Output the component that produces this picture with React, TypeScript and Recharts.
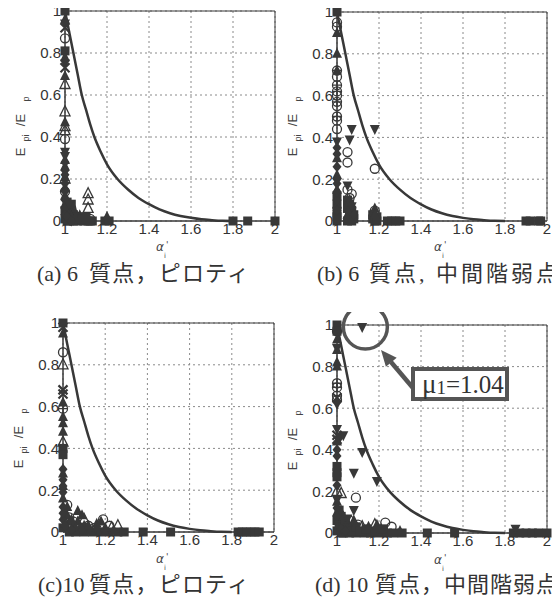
import React from "react";
import {
  ComposedChart,
  Scatter,
  Line,
  XAxis,
  YAxis,
  CartesianGrid,
  ReferenceArea,
  ReferenceDot,
} from "recharts";

type Pair = [number, number];

const xTicks = [1, 1.2, 1.4, 1.6, 1.8, 2];
const yTicks = [0, 0.2, 0.4, 0.6, 0.8, 1];

// design curve (same in all four panels)
const curveAlpha = [1, 1.02, 1.04, 1.06, 1.08, 1.1, 1.12, 1.14, 1.17, 1.2, 1.25, 1.3, 1.35, 1.4, 1.45, 1.5, 1.55, 1.6, 1.65, 1.7, 1.75, 1.8];
const curveRatio = [1, 0.9, 0.8, 0.7, 0.6, 0.53, 0.46, 0.4, 0.33, 0.27, 0.2, 0.15, 0.11, 0.08, 0.055, 0.037, 0.024, 0.015, 0.008, 0.004, 0.001, 0];

// (a) 6 mass, piloti
const aSquare: Pair[] = [[1, 1], [1, 0.81], [1, 0.05], [1, 0.01], [1.02, 0], [1.04, 0.01], [1.06, 0], [1.09, 0], [1.11, 0], [1.13, 0], [1.19, 0], [1.21, 0], [1.8, 0], [1.87, 0], [2, 0]];
const aCluster: Pair[] = [[1.01, 0.03], [1.02, 0.06], [1.03, 0.04], [1.04, 0.03], [1.05, 0.02], [1.01, 0.09], [1.02, 0.01], [1.06, 0.02], [1.03, 0.08], [1.04, 0.0], [1.01, 0.0], [1.08, 0.01], [1.12, 0.0], [1.1, 0.02]];
const aTri: Pair[] = [[1, 0.96], [1, 0.78], [1, 0.69], [1, 0.47], [1, 0.29], [1, 0.26], [1, 0.21], [1, 0.16], [1, 0.12], [1, 0.08], [1.01, 0.06], [1.02, 0.04], [1.03, 0.02], [1.05, 0.01], [1.1, 0.01], [1.2, 0.02]];
const aOpenTri: Pair[] = [[1, 0.65], [1, 0.52], [1, 0.45], [1, 0.43], [1, 0.2], [1.11, 0.13], [1.11, 0.1], [1.11, 0.06], [1.04, 0.05], [1.07, 0.02]];
const aCircle: Pair[] = [[1, 0.87], [1, 0.39], [1, 0.14], [1.03, 0.06], [1.06, 0.02], [1.12, 0.01]];
const aCross: Pair[] = [[1, 0.92], [1, 0.73]];
const aDiamond: Pair[] = [[1, 0.24], [1, 0.18], [1, 0.1], [1, 0.28], [1, 0.22], [1, 0.14], [1, 0.06], [1, 0.03], [1.01, 0.02], [1.03, 0]];
const aDownTri: Pair[] = [[1, 0.94], [1, 0.75], [1, 0.33], [1, 0.31], [1.02, 0.08]];

// (b) 6 mass, mid-storey weak
const bSquare: Pair[] = [[1, 1], [1, 0.12], [1, 0.04], [1, 0], [1.05, 0.06], [1.06, 0.02], [1.07, 0], [1.08, 0.01], [1.17, 0.01], [1.19, 0], [1.24, 0], [1.26, 0], [1.28, 0], [1.3, 0], [1.9, 0], [1.92, 0], [1.96, 0], [1.97, 0]];
const bCluster: Pair[] = [[1, 0.08], [1, 0.02], [1.05, 0.1], [1.06, 0.08], [1.07, 0.05], [1.05, 0.0], [1.06, 0.04], [1.08, 0.03], [1.17, 0.03], [1.18, 0.0], [1.19, 0.02]];
const bTri: Pair[] = [[1, 0.9], [1, 0.8], [1, 0.72], [1, 0.3], [1, 0.22], [1, 0.15], [1, 0.08], [1.06, 0.1], [1.07, 0.08], [1.05, 0.03], [1.18, 0.06], [1.18, 0.03]];
const bCircle: Pair[] = [[1, 0.95], [1, 0.93], [1, 0.69], [1, 0.6], [1, 0.55], [1, 0.48], [1, 0.44], [1.05, 0.33], [1.05, 0.28], [1.18, 0.25], [1.05, 0.15], [1.07, 0.13], [1.06, 0.11], [1.18, 0.05]];
const bPlusCircle: Pair[] = [[1, 0.72], [1, 0.65], [1, 0.62], [1, 0.57], [1, 0.5]];
const bDownTri: Pair[] = [[1, 0.38], [1.07, 0.44], [1.06, 0.39], [1.18, 0.44], [1.05, 0.17], [1.07, 0.07]];
const bDiamond: Pair[] = [[1, 0.35], [1, 0.26], [1, 0.18], [1, 0.1], [1, 0.05], [1, 0.32], [1, 0.2], [1, 0.14], [1.06, 0.05], [1.08, 0.03]];

// (c) 10 mass, piloti
const cSquare: Pair[] = [[1, 1], [1, 0.4], [1, 0.37], [1, 0.02], [1.03, 0], [1.06, 0], [1.1, 0], [1.14, 0], [1.18, 0], [1.22, 0], [1.26, 0], [1.29, 0], [1.38, 0], [1.51, 0], [1.83, 0], [1.85, 0], [1.87, 0], [1.89, 0], [1.91, 0], [1.93, 0]];
const cCluster: Pair[] = [[1.01, 0.04], [1.02, 0.02], [1.03, 0.05], [1.05, 0.03], [1.07, 0.05], [1.08, 0.02], [1.1, 0.03], [1.13, 0.01], [1.16, 0.02], [1.2, 0.0], [1.24, 0.01], [1.01, 0.09], [1.02, 0.12]];
const cTri: Pair[] = [[1, 0.95], [1, 0.62], [1, 0.55], [1, 0.52], [1, 0.48], [1, 0.28], [1, 0.22], [1, 0.16], [1.02, 0.08], [1.04, 0.06], [1.07, 0.1], [1.09, 0.08], [1.12, 0.03], [1.16, 0.04], [1.18, 0.05], [1.2, 0.02], [1.06, 0.02]];
const cOpenTri: Pair[] = [[1, 0.8], [1, 0.43], [1.1, 0.06], [1.26, 0.03], [1.23, 0.02]];
const cCircle: Pair[] = [[1, 0.86], [1.03, 0.07], [1.05, 0.05], [1.12, 0.03], [1.15, 0.02], [1.19, 0.06], [1.22, 0.03], [1.02, 0.13]];
const cPlusCircle: Pair[] = [[1, 0.59]];
const cCross: Pair[] = [[1, 0.98], [1, 0.68], [1, 0.66]];
const cDiamond: Pair[] = [[1, 0.25], [1, 0.19], [1, 0.12], [1, 0.06], [1, 0.3], [1, 0.22], [1, 0.09], [1.01, 0.03], [1.04, 0.01], [1.09, 0.01]];

// (d) 10 mass, mid-storey weak
const dSquare: Pair[] = [[1, 1], [1, 0.97], [1, 0.32], [1, 0.29], [1, 0.27], [1, 0.06], [1, 0.01], [1.03, 0], [1.06, 0], [1.09, 0], [1.13, 0], [1.16, 0], [1.2, 0], [1.24, 0], [1.27, 0], [1.31, 0], [1.43, 0], [1.56, 0], [1.84, 0], [1.87, 0], [1.9, 0], [1.93, 0], [1.96, 0], [2, 0]];
const dCluster: Pair[] = [[1.01, 0.04], [1.02, 0.08], [1.03, 0.03], [1.04, 0.06], [1.06, 0.03], [1.07, 0.01], [1.09, 0.03], [1.11, 0.01], [1.14, 0.02], [1.18, 0.01], [1.22, 0.02], [1.01, 0.11], [1.02, 0.0]];
const dTri: Pair[] = [[1, 0.93], [1, 0.88], [1, 0.82], [1, 0.8], [1, 0.44], [1, 0.15], [1, 0.1], [1.03, 0.08], [1.05, 0.05], [1.08, 0.06], [1.15, 0.03], [1.19, 0.04], [1.21, 0.02], [1.3, 0.01]];
const dDownTri: Pair[] = [[1.12, 0.99], [1, 0.89], [1, 0.62], [1, 0.5], [1.015, 0.46], [1.03, 0.47], [1.12, 0.39], [1.08, 0.29], [1.19, 0.25], [1, 0.16], [1.08, 0.11], [1.05, 0.07], [1.85, 0.02]];
const dCircle: Pair[] = [[1, 0.97], [1, 0.66], [1, 0.64], [1.09, 0.17], [1.06, 0.06], [1.1, 0.04], [1.23, 0.05], [1.26, 0.03]];
const dPlusCircle: Pair[] = [[1, 0.72], [1, 0.7]];
const dDiamond: Pair[] = [[1, 0.4], [1, 0.37], [1, 0.23], [1, 0.12], [1, 0.08], [1.02, 0.02], [1.04, 0.01]];
const dOpenTri: Pair[] = [[1, 0.2], [1.02, 0.19], [1.12, 0.03], [1.18, 0.04]];
const dCross: Pair[] = [[1, 0.47], [1, 0.45], [1, 0.65]];

const captionHeads = ["(a) 6", "(b) 6", "(c)10", "(d) 10"];
const captionTails = ["質点，ピロティ", "質点, 中間階弱点", "質点，ピロティ", "質点，中間階弱点"];

const INK = "#383838";
const curve = curveAlpha.map((x, i) => ({ x, y: curveRatio[i] }));
const pts = (arr: Pair[]) => arr.map(([x, y]) => ({ x, y }));

function Marker(props: any) {
  const { cx, cy, kind } = props;
  if (cx == null || cy == null) return null;
  switch (kind) {
    case "sq":
      return <rect x={cx - 4.5} y={cy - 4.5} width={9} height={9} fill={INK} />;
    case "tri":
      return <polygon points={`${cx},${cy - 6} ${cx - 5},${cy + 4} ${cx + 5},${cy + 4}`} fill={INK} />;
    case "otri":
      return <polygon points={`${cx},${cy - 6} ${cx - 5},${cy + 4} ${cx + 5},${cy + 4}`} fill="none" stroke={INK} strokeWidth={1.3} />;
    case "dtri":
      return <polygon points={`${cx - 5},${cy - 4} ${cx + 5},${cy - 4} ${cx},${cy + 6}`} fill={INK} />;
    case "circ":
      return <circle cx={cx} cy={cy} r={4.5} fill="none" stroke={INK} strokeWidth={1.3} />;
    case "pcirc":
      return (
        <g stroke={INK} strokeWidth={1.3} fill="none">
          <circle cx={cx} cy={cy} r={4.5} />
          <path d={`M${cx - 4.5},${cy}H${cx + 4.5}M${cx},${cy - 4.5}V${cy + 4.5}`} />
        </g>
      );
    case "dia":
      return <polygon points={`${cx},${cy - 5.5} ${cx + 4.5},${cy} ${cx},${cy + 5.5} ${cx - 4.5},${cy}`} fill={INK} />;
    case "x":
      return <path d={`M${cx - 4.5},${cy - 4.5}L${cx + 4.5},${cy + 4.5}M${cx - 4.5},${cy + 4.5}L${cx + 4.5},${cy - 4.5}`} stroke={INK} strokeWidth={2.2} />;
    default:
      return null;
  }
}

type Series = { kind: string; data: Pair[] };

const panels: {
  left: number;
  top: number;
  margin: { top: number; left: number; right: number; bottom: number };
  series: Series[];
  ring?: boolean;
}[] = [
  {
    left: 0, top: 0, margin: { top: 11, left: 35, right: 5, bottom: 19 },
    series: [
      { kind: "otri", data: aOpenTri }, { kind: "circ", data: aCircle }, { kind: "sq", data: aSquare },
      { kind: "sq", data: aCluster }, { kind: "tri", data: aTri }, { kind: "dia", data: aDiamond },
      { kind: "dtri", data: aDownTri }, { kind: "x", data: aCross },
    ],
  },
  {
    left: 280, top: 0, margin: { top: 12, left: 27, right: 13, bottom: 19 },
    series: [
      { kind: "circ", data: bCircle }, { kind: "pcirc", data: bPlusCircle }, { kind: "sq", data: bSquare },
      { kind: "sq", data: bCluster }, { kind: "tri", data: bTri }, { kind: "dia", data: bDiamond },
      { kind: "dtri", data: bDownTri },
    ],
  },
  {
    left: 0, top: 312, margin: { top: 11, left: 33, right: 6, bottom: 20 },
    series: [
      { kind: "otri", data: cOpenTri }, { kind: "circ", data: cCircle }, { kind: "pcirc", data: cPlusCircle },
      { kind: "sq", data: cSquare }, { kind: "tri", data: cCluster }, { kind: "tri", data: cTri },
      { kind: "dia", data: cDiamond }, { kind: "x", data: cCross },
    ],
  },
  {
    left: 280, top: 312, margin: { top: 13, left: 27, right: 13, bottom: 19 },
    ring: true,
    series: [
      { kind: "otri", data: dOpenTri }, { kind: "circ", data: dCircle }, { kind: "pcirc", data: dPlusCircle },
      { kind: "sq", data: dSquare }, { kind: "sq", data: dCluster }, { kind: "tri", data: dTri },
      { kind: "dia", data: dDiamond }, { kind: "dtri", data: dDownTri }, { kind: "x", data: dCross },
    ],
  },
];

const tickStyle = { fill: "#333", fontSize: 15, fontFamily: "Liberation Sans, Arial, sans-serif" };

function Panel({ cfg }: { cfg: (typeof panels)[number] }) {
  return (
    <div style={{ position: "absolute", left: cfg.left, top: cfg.top }}>
      <ComposedChart width={280} height={260} margin={cfg.margin}>
        <CartesianGrid stroke="#8a8a8a" strokeDasharray="2 3" />
        <XAxis
          type="number"
          dataKey="x"
          domain={[1, 2]}
          ticks={xTicks}
          height={20}
          tickLine={false}
          tickSize={0}
          tickMargin={2}
          axisLine={{ stroke: INK }}
          tick={tickStyle}
          interval={0}
        />
        <YAxis
          type="number"
          dataKey="y"
          domain={[0, 1]}
          ticks={yTicks}
          width={30}
          tickLine={false}
          tickSize={0}
          tickMargin={4}
          axisLine={{ stroke: INK }}
          tick={tickStyle}
          interval={0}
        />
        <ReferenceArea x1={1} x2={2} y1={0} y2={1} fill="none" fillOpacity={0} stroke={INK} strokeWidth={1} />
        {cfg.series.map((s, i) => (
          <Scatter
            key={i}
            data={pts(s.data)}
            isAnimationActive={false}
            shape={(p: any) => <Marker cx={p.cx} cy={p.cy} kind={s.kind} />}
          />
        ))}
        <Line
          data={curve}
          dataKey="y"
          type="monotone"
          stroke={INK}
          strokeWidth={2.5}
          dot={false}
          isAnimationActive={false}
        />
        {cfg.ring && (
          <ReferenceDot x={1.135} y={0.99} r={22} fill="none" stroke="#555" strokeWidth={3.5} ifOverflow="visible" />
        )}
      </ComposedChart>
    </div>
  );
}

function YTitle({ x, y }: { x: number; y: number }) {
  const part = (dx: number, up: number, s: string, size: number) => (
    <text
      transform={`translate(${x + dx},${y - up}) rotate(-90)`}
      textAnchor="middle"
      fontSize={size}
      fill="#444"
      fontFamily="Liberation Sans, Arial, sans-serif"
    >
      {s}
    </text>
  );
  return (
    <g>
      {part(0, 0, "E", 13)}
      {part(4, 14, "pi", 9)}
      {part(0, 32, "/E", 13)}
      {part(4, 53, "p", 9)}
    </g>
  );
}

function XTitle({ x, y }: { x: number; y: number }) {
  return (
    <g fill="#444" fontFamily="DejaVu Sans, sans-serif">
      <text x={x} y={y} fontSize={12} textAnchor="middle" fontStyle="italic">α</text>
      <text x={x + 4} y={y + 7} fontSize={7}>i</text>
      <text x={x + 6} y={y - 3} fontSize={9}>'</text>
    </g>
  );
}

const capFont = '"Liberation Serif", "Noto Sans CJK JP", serif';

function Caption({ i, x, tx, len, y }: { i: number; x: number; tx: number; len: number; y: number }) {
  return (
    <g fontSize={22} fontFamily={capFont} fill="#333">
      <text x={x} y={y}>{captionHeads[i]}</text>
      <text x={tx} y={y} textLength={len} lengthAdjust="spacing">{captionTails[i]}</text>
    </g>
  );
}

export default function App() {
  return (
    <div style={{ position: "relative", width: 560, height: 611, margin: -8, background: "#fff" }}>
      {panels.map((p, i) => (
        <Panel key={i} cfg={p} />
      ))}
      <svg width={560} height={611} style={{ position: "absolute", left: 0, top: 0, pointerEvents: "none" }}>
        <YTitle x={25} y={152} />
        <YTitle x={297} y={152} />
        <YTitle x={23} y={464} />
        <YTitle x={297} y={466} />
        <XTitle x={160} y={251} />
        <XTitle x={438} y={251} />
        <XTitle x={160} y={563} />
        <XTitle x={438} y={564} />

        <Caption i={0} x={37} tx={89} len={160} y={281} />
        <Caption i={1} x={317} tx={369} len={189} y={281} />
        <Caption i={2} x={38} tx={89} len={160} y={592} />
        <Caption i={3} x={315} tx={375} len={183} y={592} />

        {/* annotation on (d) */}
        <line x1={413} y1={388} x2={391} y2={362} stroke="#555" strokeWidth={4.5} />
        <polygon points="381,350 396.7,357.7 385.9,366.7" fill="#555" />
        <rect x={413} y={369} width={94} height={30} fill="#fff" stroke="#555" strokeWidth={4} />
        <text x={422} y={393} fill="#333" fontFamily='"Liberation Serif", serif'>
          <tspan fontSize={27}>μ</tspan>
          <tspan fontSize={19} dy={1}>1</tspan>
          <tspan fontSize={25} dy={-1}>=1.04</tspan>
        </text>
      </svg>
    </div>
  );
}
